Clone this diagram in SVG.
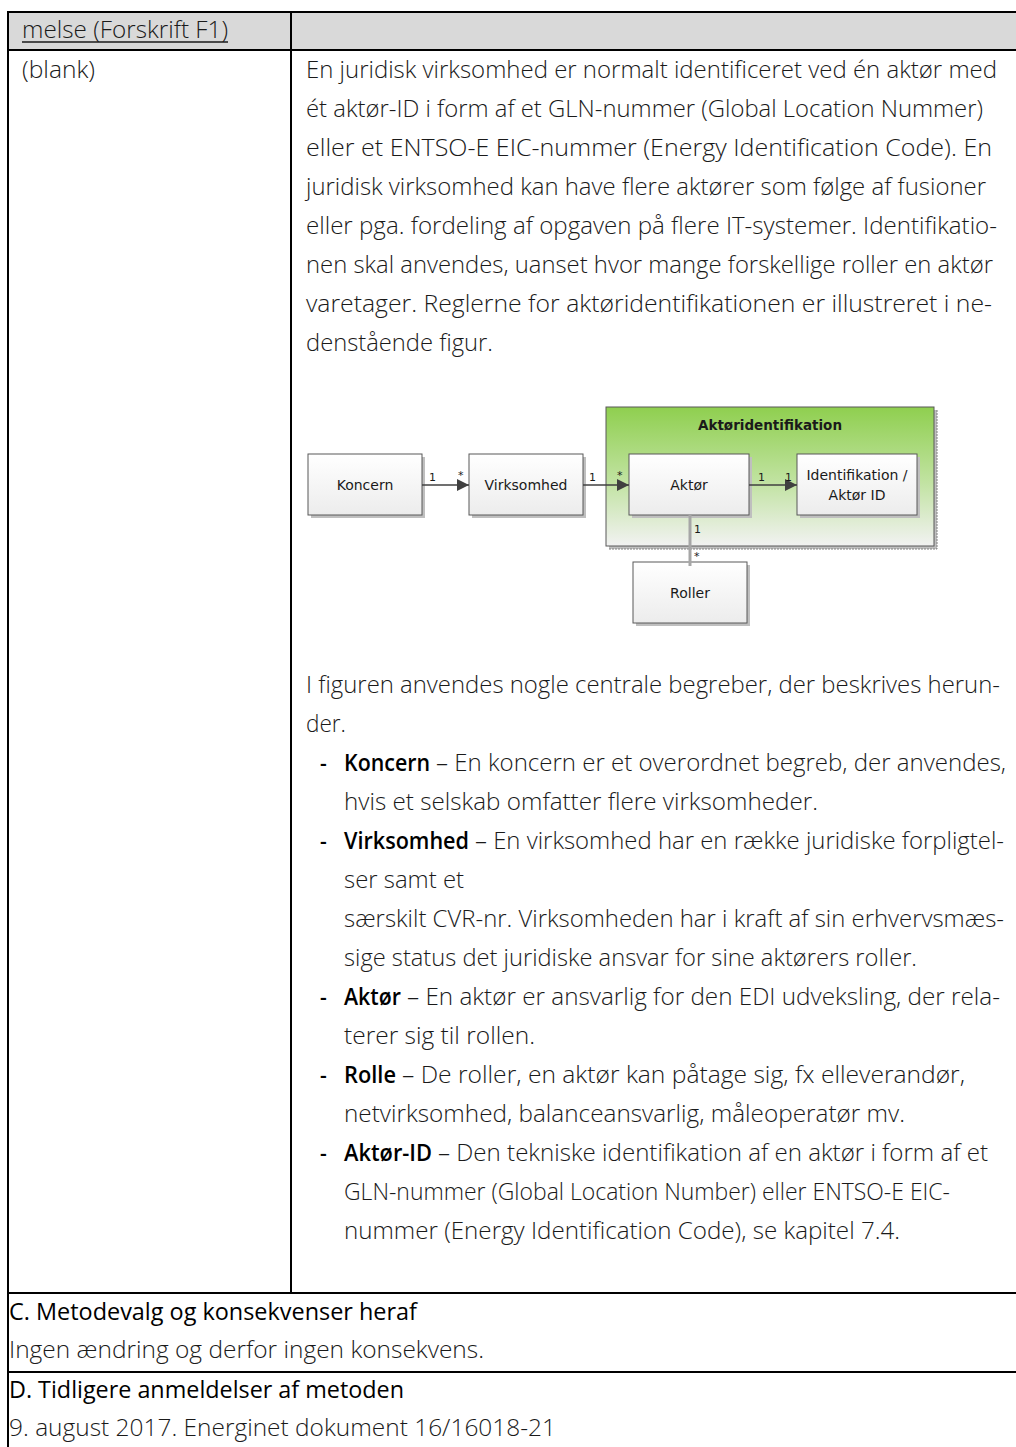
<svg xmlns="http://www.w3.org/2000/svg" width="1016" height="1447" viewBox="0 0 1016 1447">
<style>
.body{font-family:"Open Sans","Liberation Sans",sans-serif;font-weight:300;font-size:23px;fill:#1a1a1a}
.bold{font-family:"Open Sans","Liberation Sans",sans-serif;font-weight:600;font-size:23px;fill:#000}
.reg{font-family:"Open Sans","Liberation Sans",sans-serif;font-weight:400;font-size:23px;fill:#000}
.dash{font-family:"Open Sans","Liberation Sans",sans-serif;font-weight:600;font-size:21px;fill:#000}
.tl{stroke:#000;stroke-width:2;fill:none}
.box{fill:url(#boxg);stroke:#595959;stroke-width:1}
.shadow{fill:#bfbfbf}
.dt{font-family:"DejaVu Sans","Liberation Sans",sans-serif;font-size:14px;fill:#1a1a1a;text-anchor:middle}
.mult{font-family:"DejaVu Sans","Liberation Sans",sans-serif;font-size:11px;fill:#1a1a1a}
.conn{stroke:#404040;stroke-width:1.5;fill:none}
</style>
<defs>
<linearGradient id="boxg" x1="0" y1="0" x2="0" y2="1">
<stop offset="0" stop-color="#ffffff"/>
<stop offset="1" stop-color="#ececec"/>
</linearGradient>
<linearGradient id="greeng" x1="0" y1="0" x2="0" y2="1">
<stop offset="0" stop-color="#8fcf4f"/>
<stop offset="0.55" stop-color="#c2e3a3"/>
<stop offset="1" stop-color="#f2f2f2"/>
</linearGradient>
<marker id="arr" viewBox="0 0 12 12" refX="12" refY="6" markerWidth="12" markerHeight="12" markerUnits="userSpaceOnUse" orient="auto">
<path d="M0,0 L12,6 L0,12 Z" fill="#404040"/>
</marker>
</defs>

<g id="table">
<rect x="8" y="12" width="1010" height="38" fill="#d9d9d9"/>
<line class="tl" x1="8" y1="12" x2="1016" y2="12"/>
<line class="tl" x1="8" y1="50" x2="1016" y2="50"/>
<line class="tl" x1="8" y1="1293" x2="1016" y2="1293"/>
<line class="tl" x1="8" y1="1372" x2="1016" y2="1372"/>
<line class="tl" x1="8" y1="11" x2="8" y2="1447"/>
<line class="tl" x1="291" y1="12" x2="291" y2="1293"/>
<text class="body" x="22" y="38" textLength="206" lengthAdjust="spacingAndGlyphs">melse (Forskrift F1)</text>
<line x1="22" y1="42" x2="228" y2="42" stroke="#1a1a1a" stroke-width="1.3"/>
<text class="body" x="22" y="78" textLength="73" lengthAdjust="spacingAndGlyphs">(blank)</text>
</g>

<g id="paragraph1">
<text class="body" x="306" y="78" textLength="691" lengthAdjust="spacingAndGlyphs">En juridisk virksomhed er normalt identificeret ved én aktør med</text>
<text class="body" x="306" y="117" textLength="677" lengthAdjust="spacingAndGlyphs">ét aktør-ID i form af et GLN-nummer (Global Location Nummer)</text>
<text class="body" x="306" y="156" textLength="686" lengthAdjust="spacingAndGlyphs">eller et ENTSO-E EIC-nummer (Energy Identification Code). En</text>
<text class="body" x="306" y="195" textLength="680" lengthAdjust="spacingAndGlyphs">juridisk virksomhed kan have flere aktører som følge af fusioner</text>
<text class="body" x="306" y="234" textLength="691" lengthAdjust="spacingAndGlyphs">eller pga. fordeling af opgaven på flere IT-systemer. Identifikatio-</text>
<text class="body" x="306" y="273" textLength="687" lengthAdjust="spacingAndGlyphs">nen skal anvendes, uanset hvor mange forskellige roller en aktør</text>
<text class="body" x="306" y="312" textLength="686" lengthAdjust="spacingAndGlyphs">varetager. Reglerne for aktøridentifikationen er illustreret i ne-</text>
<text class="body" x="306" y="351" textLength="187" lengthAdjust="spacingAndGlyphs">denstående figur.</text>
</g>

<g id="group-aktoridentifikation">
<rect x="609" y="410" width="328" height="139" fill="#bfbfbf"/>
<path d="M609,549 H937 V410" stroke="#808080" stroke-width="1" stroke-dasharray="2,1" fill="none"/>
<rect x="606" y="407" width="328" height="139" fill="url(#greeng)" stroke="#595959" stroke-width="1"/>
<text x="770" y="430" font-family="'DejaVu Sans','Liberation Sans',sans-serif" font-size="13.5" font-weight="bold" fill="#1a1a1a" text-anchor="middle">Aktøridentifikation</text>
</g>

<g id="node-koncern">
<rect class="shadow" x="311" y="457" width="114" height="61"/>
<rect class="box" x="308" y="454" width="114" height="61"/>
<text class="dt" x="365" y="490">Koncern</text>
</g>
<g id="node-virksomhed">
<rect class="shadow" x="472" y="457" width="114" height="61"/>
<rect class="box" x="469" y="454" width="114" height="61"/>
<text class="dt" x="526" y="490">Virksomhed</text>
</g>
<g id="node-aktor">
<rect class="shadow" x="632" y="457" width="120" height="61"/>
<rect class="box" x="629" y="454" width="120" height="61"/>
<text class="dt" x="689" y="490">Aktør</text>
</g>
<g id="node-identifikation">
<rect class="shadow" x="800" y="457" width="120" height="61"/>
<rect class="box" x="797" y="454" width="120" height="61"/>
<text class="dt" x="857" y="480">Identifikation /</text>
<text class="dt" x="857" y="500">Aktør ID</text>
</g>
<g id="node-roller">
<rect class="shadow" x="636" y="565" width="114" height="61"/>
<rect class="box" x="633" y="562" width="114" height="61"/>
<text class="dt" x="690" y="598">Roller</text>
</g>

<g id="connectors">
<line class="conn" x1="422" y1="485" x2="469" y2="485" marker-end="url(#arr)"/>
<text class="mult" x="429" y="481">1</text>
<text class="mult" x="458" y="479">*</text>
<line class="conn" x1="583" y1="485" x2="629" y2="485" marker-end="url(#arr)"/>
<text class="mult" x="589" y="481">1</text>
<text class="mult" x="617" y="479">*</text>
<line class="conn" x1="749" y1="485" x2="797" y2="485" marker-end="url(#arr)"/>
<text class="mult" x="758" y="481">1</text>
<text class="mult" x="785" y="481">1</text>
<line x1="690" y1="515" x2="690" y2="566" stroke="#a6a6a6" stroke-width="3"/>
<text class="mult" x="694" y="533">1</text>
<text class="mult" x="694" y="560">*</text>
</g>

<g id="paragraph2">
<text class="body" x="306" y="693" textLength="694" lengthAdjust="spacingAndGlyphs">I figuren anvendes nogle centrale begreber, der beskrives herun-</text>
<text class="body" x="306" y="732" textLength="40" lengthAdjust="spacingAndGlyphs">der.</text>

<text class="dash" x="320" y="771">-</text>
<text class="bold" x="344" y="771" textLength="86" lengthAdjust="spacingAndGlyphs">Koncern</text>
<text class="body" x="436" y="771" textLength="570" lengthAdjust="spacingAndGlyphs">– En koncern er et overordnet begreb, der anvendes,</text>
<text class="body" x="344" y="810" textLength="474" lengthAdjust="spacingAndGlyphs">hvis et selskab omfatter flere virksomheder.</text>

<text class="dash" x="320" y="849">-</text>
<text class="bold" x="344" y="849" textLength="125" lengthAdjust="spacingAndGlyphs">Virksomhed</text>
<text class="body" x="475" y="849" textLength="529" lengthAdjust="spacingAndGlyphs">– En virksomhed har en række juridiske forpligtel-</text>
<text class="body" x="344" y="888" textLength="120" lengthAdjust="spacingAndGlyphs">ser samt et</text>
<text class="body" x="344" y="927" textLength="660" lengthAdjust="spacingAndGlyphs">særskilt CVR-nr. Virksomheden har i kraft af sin erhvervsmæs-</text>
<text class="body" x="344" y="966" textLength="573" lengthAdjust="spacingAndGlyphs">sige status det juridiske ansvar for sine aktørers roller.</text>

<text class="dash" x="320" y="1005">-</text>
<text class="bold" x="344" y="1005" textLength="57" lengthAdjust="spacingAndGlyphs">Aktør</text>
<text class="body" x="407" y="1005" textLength="593" lengthAdjust="spacingAndGlyphs">– En aktør er ansvarlig for den EDI udveksling, der rela-</text>
<text class="body" x="344" y="1044" textLength="191" lengthAdjust="spacingAndGlyphs">terer sig til rollen.</text>

<text class="dash" x="320" y="1083">-</text>
<text class="bold" x="344" y="1083" textLength="52" lengthAdjust="spacingAndGlyphs">Rolle</text>
<text class="body" x="402" y="1083" textLength="563" lengthAdjust="spacingAndGlyphs">– De roller, en aktør kan påtage sig, fx elleverandør,</text>
<text class="body" x="344" y="1122" textLength="561" lengthAdjust="spacingAndGlyphs">netvirksomhed, balanceansvarlig, måleoperatør mv.</text>

<text class="dash" x="320" y="1161">-</text>
<text class="bold" x="344" y="1161" textLength="88" lengthAdjust="spacingAndGlyphs">Aktør-ID</text>
<text class="body" x="438" y="1161" textLength="550" lengthAdjust="spacingAndGlyphs">– Den tekniske identifikation af en aktør i form af et</text>
<text class="body" x="344" y="1200" textLength="606" lengthAdjust="spacingAndGlyphs">GLN-nummer (Global Location Number) eller ENTSO-E EIC-</text>
<text class="body" x="344" y="1239" textLength="556" lengthAdjust="spacingAndGlyphs">nummer (Energy Identification Code), se kapitel 7.4.</text>
</g>

<g id="sections">
<text class="reg" x="9" y="1320" textLength="408" lengthAdjust="spacingAndGlyphs">C. Metodevalg og konsekvenser heraf</text>
<text class="body" x="9" y="1358" textLength="475" lengthAdjust="spacingAndGlyphs">Ingen ændring og derfor ingen konsekvens.</text>
<text class="reg" x="9" y="1398" textLength="395" lengthAdjust="spacingAndGlyphs">D. Tidligere anmeldelser af metoden</text>
<text class="body" x="9" y="1436" textLength="547" lengthAdjust="spacingAndGlyphs">9. august 2017. Energinet dokument 16/16018-21</text>
</g>
</svg>
